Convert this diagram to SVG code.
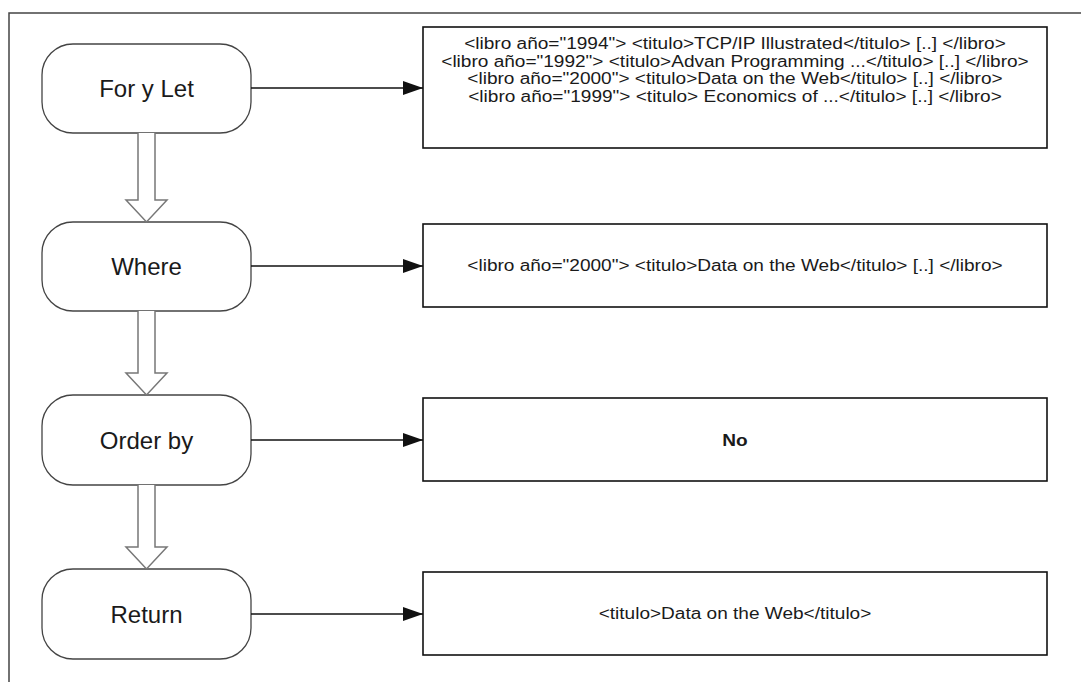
<svg xmlns="http://www.w3.org/2000/svg" width="1081" height="682" viewBox="0 0 1081 682">
  <defs>
    <style>
      .frame { fill: none; stroke: #444; stroke-width: 1.5; }
      .node { fill: #fff; stroke: #444; stroke-width: 1.3; }
      .box { fill: #fff; stroke: #111; stroke-width: 1.6; }
      .lbl { font-family: "Liberation Sans", Arial, sans-serif; font-size: 24px; fill: #1a1a1a; text-anchor: middle; }
      .txt { font-family: "Liberation Sans", Arial, sans-serif; font-size: 16px; fill: #1a1a1a; text-anchor: middle; }
      .bold { font-weight: bold; }
      .link { fill: none; stroke: #111; stroke-width: 1.5; }
      .block { fill: #fff; stroke: #777; stroke-width: 1.5; stroke-linejoin: miter; }
    </style>
    <marker id="ah" viewBox="0 0 20 14" refX="20" refY="7" markerWidth="20" markerHeight="14" markerUnits="userSpaceOnUse" orient="auto">
      <path d="M0,0 L20,7 L0,14 Z" fill="#111"/>
    </marker>
  </defs>
  <rect width="1081" height="682" fill="#fff"/>
  <path class="frame" d="M9,682 V13 H1081"/>

  <g id="n-forlet">
    <rect class="node" x="42" y="44" width="209" height="89" rx="31" ry="31"/>
    <text class="lbl" x="146.5" y="96.5">For y Let</text>
  </g>
  <g id="n-where">
    <rect class="node" x="42" y="222" width="209" height="89" rx="31" ry="31"/>
    <text class="lbl" x="146.5" y="274.5">Where</text>
  </g>
  <g id="n-orderby">
    <rect class="node" x="42" y="395" width="209" height="90" rx="31" ry="31"/>
    <text class="lbl" x="146.5" y="448.5">Order by</text>
  </g>
  <g id="n-return">
    <rect class="node" x="42" y="569" width="209" height="90" rx="31" ry="31"/>
    <text class="lbl" x="146.5" y="622.5">Return</text>
  </g>

  <g id="b-forlet">
    <rect class="box" x="423" y="27" width="624" height="121"/>
    <g transform="translate(735,0) scale(1.19,1)">
      <text class="txt" x="0" y="49.5">&lt;libro año="1994"&gt; &lt;titulo&gt;TCP/IP Illustrated&lt;/titulo&gt; [..] &lt;/libro&gt;</text>
      <text class="txt" x="0" y="67">&lt;libro año="1992"&gt; &lt;titulo&gt;Advan Programming ...&lt;/titulo&gt; [..] &lt;/libro&gt;</text>
      <text class="txt" x="0" y="84.5">&lt;libro año="2000"&gt; &lt;titulo&gt;Data on the Web&lt;/titulo&gt; [..] &lt;/libro&gt;</text>
      <text class="txt" x="0" y="102">&lt;libro año="1999"&gt; &lt;titulo&gt; Economics of ...&lt;/titulo&gt; [..] &lt;/libro&gt;</text>
    </g>
  </g>
  <g id="b-where">
    <rect class="box" x="423" y="224" width="624" height="83"/>
    <text class="txt" transform="translate(735,0) scale(1.19,1)" x="0" y="271.5">&lt;libro año="2000"&gt; &lt;titulo&gt;Data on the Web&lt;/titulo&gt; [..] &lt;/libro&gt;</text>
  </g>
  <g id="b-orderby">
    <rect class="box" x="423" y="398" width="624" height="83"/>
    <text class="txt bold" transform="translate(735,0) scale(1.19,1)" x="0" y="446">No</text>
  </g>
  <g id="b-return">
    <rect class="box" x="423" y="572" width="624" height="83"/>
    <text class="txt" transform="translate(735,0) scale(1.19,1)" x="0" y="619.5">&lt;titulo&gt;Data on the Web&lt;/titulo&gt;</text>
  </g>

  <g id="connectors">
    <path class="link" d="M251,88 H423" marker-end="url(#ah)"/>
    <path class="link" d="M251,266 H423" marker-end="url(#ah)"/>
    <path class="link" d="M251,440 H423" marker-end="url(#ah)"/>
    <path class="link" d="M251,614 H423" marker-end="url(#ah)"/>
    <path class="block" d="M138,133 V200 H126 L146.5,222 L167,200 H155 V133"/>
    <path class="block" d="M138,311 V373 H126 L146.5,395 L167,373 H155 V311"/>
    <path class="block" d="M138,485 V547 H126 L146.5,569 L167,547 H155 V485"/>
  </g>
</svg>
